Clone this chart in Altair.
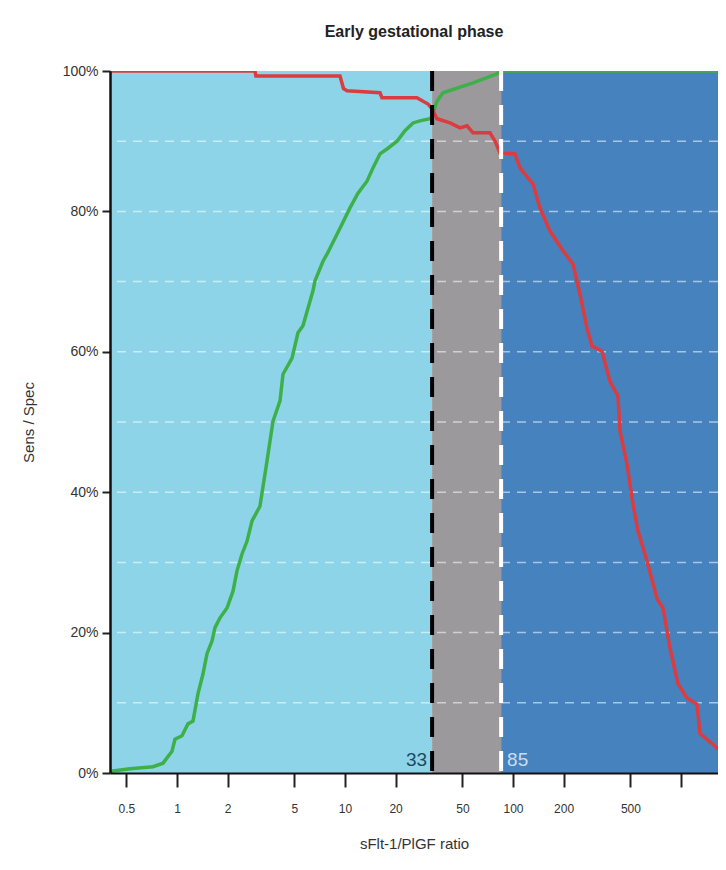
import altair as alt
import pandas as pd

# ---- data ----
green_x = [0.3993, 0.416, 0.525, 0.72, 0.826, 0.934, 0.973, 1.071, 1.162, 1.245, 1.334, 1.428, 1.509,
           1.616, 1.683, 1.803, 1.985, 2.155, 2.276, 2.438, 2.611, 2.796, 3.118, 3.433, 3.727, 4.104,
           4.276, 4.84, 5.25, 5.623, 6.022, 6.449, 6.627, 7.396, 7.816, 9.339, 10.71, 11.95, 13.52,
           14.68, 16.16, 18.03, 20.4, 22.76, 25.41, 27.94, 32.06, 33.0, 35.3, 38.3, 57.8, 80.0, 85.0, 1661]
green_y = [0.0, 0.3, 0.6, 0.9, 1.4, 3.1, 4.8, 5.3, 7.0, 7.4, 11.3, 14.1, 17.0,
           18.8, 20.7, 22.1, 23.5, 25.9, 28.8, 31.2, 33.0, 35.9, 38.0, 44.4, 50.1, 53.0,
           56.8, 59.1, 62.7, 63.7, 66.2, 68.7, 70.1, 72.9, 73.9, 77.6, 80.5, 82.6, 84.3,
           86.2, 88.2, 89.0, 90.0, 91.5, 92.6, 92.9, 93.2, 93.6, 95.7, 96.9, 98.3, 99.6, 100.0, 100.0]

red_x = [0.3993, 2.91, 2.95, 9.34, 9.8, 10.28, 16.16, 16.6, 26.8, 31.2, 33.0, 35.3, 42.2, 48.4, 53.3,
         57.8, 73.0, 78.2, 83.7, 102.8, 110.1, 131.6, 144.8, 166.0, 198.5, 227.6, 250.5, 275.5,
         295.3, 338.6, 377.7, 421.6, 433.5, 477.3, 517.9, 554.6, 627.8, 719.7, 781.5, 860.3,
         960.3, 1086, 1245, 1298, 1549, 1853]
red_y = [100.0, 100.0, 99.3, 99.3, 97.5, 97.2, 96.9, 96.2, 96.2, 95.3, 94.6, 93.2, 92.6, 91.9, 92.2,
         91.2, 91.2, 90.0, 88.3, 88.2, 86.2, 83.9, 80.5, 77.2, 74.4, 72.5, 68.2, 63.4,
         60.8, 60.1, 55.8, 53.7, 48.7, 44.0, 38.3, 34.5, 30.2, 24.9, 23.5, 17.8,
         12.7, 10.7, 9.8, 5.6, 4.1, 2.4]

zone_start = [0.3993, 33, 85]
zone_end = [33, 85, 1661]
zone_name = ["rule-out", "grey zone", "rule-in"]
zone_color = ["#8ED4E8", "#9C999C", "#4682BE"]

grid_y = [10, 20, 30, 40, 50, 60, 70, 80, 90]
cutoff_low = [33]
cutoff_high = [85]
x_ticks = [0.5, 1, 2, 5, 10, 20, 50, 100, 200, 500, 1000]
y_ticks = [0, 20, 40, 60, 80, 100]

X_DOMAIN = [0.3993, 1661]
W, H = 608, 702

x_scale = alt.Scale(type="log", domain=X_DOMAIN, nice=False)
y_scale = alt.Scale(domain=[0, 100], nice=False, zero=False)

x_axis = alt.Axis(title="sFlt-1/PlGF ratio", values=x_ticks,
                  labelExpr="datum.value >= 1000 ? '' : format(datum.value, '~g')",
                  grid=False, tickSize=14, tickWidth=2, tickColor="#222",
                  labelPadding=16, labelFontSize=12, labelColor="#333",
                  labelFont="Liberation Sans", domainColor="#111", domainWidth=2,
                  titleFontSize=15, titleFont="Liberation Sans", titleFontWeight="normal",
                  titleColor="#333", titleY=70, titleBaseline="middle", zindex=1)
y_axis = alt.Axis(title="Sens / Spec", values=y_ticks, labelExpr="datum.value + '%'",
                  grid=False, tickSize=8, tickWidth=2, tickColor="#222",
                  labelPadding=4, labelFontSize=14, labelColor="#333",
                  labelFont="Liberation Sans", domainColor="#111", domainWidth=2.5,
                  titleFontSize=15, titleFont="Liberation Sans", titleFontWeight="normal",
                  titleColor="#333", titleX=-82, titleBaseline="middle", zindex=1)

zones = pd.DataFrame({"start": zone_start, "end": zone_end, "zone": zone_name,
                      "lo": [0] * 3, "hi": [100] * 3})
bg = alt.Chart(zones).mark_rect(clip=True).encode(
    x=alt.X("start:Q", scale=x_scale, axis=x_axis),
    x2="end:Q",
    y=alt.Y("lo:Q", scale=y_scale, axis=y_axis),
    y2="hi:Q",
    fill=alt.Fill("zone:N", scale=alt.Scale(domain=zone_name, range=zone_color), legend=None),
)

grid = alt.Chart(pd.DataFrame({"g": grid_y})).mark_rule(
    stroke="#FFFFFF", strokeWidth=1.5, strokeDash=[9, 7], opacity=0.55
).encode(y=alt.Y("g:Q", scale=y_scale, axis=y_axis))

rows = []
for i, (xv, yv) in enumerate(zip(green_x, green_y)):
    rows.append({"x": xv, "y": yv, "s": "Sens", "i": i})
for i, (xv, yv) in enumerate(zip(red_x, red_y)):
    rows.append({"x": xv, "y": yv, "s": "Spec", "i": i})
curves = pd.DataFrame(rows)

lines = alt.Chart(curves).mark_line(strokeWidth=3.5, clip=True).encode(
    x=alt.X("x:Q", scale=x_scale, axis=x_axis),
    y=alt.Y("y:Q", scale=y_scale, axis=y_axis),
    stroke=alt.Stroke("s:N", scale=alt.Scale(domain=["Sens", "Spec"], range=["#3DB04A", "#DC3B3F"]),
                      legend=None),
    detail="s:N",
    order="i:Q",
)

black_line = alt.Chart(pd.DataFrame({"c": cutoff_low})).mark_rule(
    stroke="#000000", strokeWidth=4, strokeDash=[20, 14]
).encode(x=alt.X("c:Q", scale=x_scale, axis=x_axis))

white_line = alt.Chart(pd.DataFrame({"c": cutoff_high})).mark_rule(
    stroke="#FFFFFF", strokeWidth=4, strokeDash=[20, 14]
).encode(x=alt.X("c:Q", scale=x_scale, axis=x_axis))

lab_low = alt.Chart(pd.DataFrame({"c": cutoff_low, "t": ["33"], "yy": [0]})).mark_text(
    align="right", baseline="bottom", dx=-5, dy=-3, fontSize=19, font="Liberation Sans",
    color="#1C4B5E"
).encode(x=alt.X("c:Q", scale=x_scale, axis=x_axis),
         y=alt.Y("yy:Q", scale=y_scale, axis=y_axis), text="t:N")

lab_high = alt.Chart(pd.DataFrame({"c": cutoff_high, "t": ["85"], "yy": [0]})).mark_text(
    align="left", baseline="bottom", dx=6, dy=-3, fontSize=19, font="Liberation Sans",
    color="#C9DDF0"
).encode(x=alt.X("c:Q", scale=x_scale, axis=x_axis),
         y=alt.Y("yy:Q", scale=y_scale, axis=y_axis), text="t:N")

chart = alt.layer(bg, grid, lines, black_line, white_line, lab_low, lab_high).properties(
    width=W, height=H,
    title=alt.TitleParams("Early gestational phase", fontSize=16, fontWeight="bold",
                          font="Liberation Sans", color="#222", anchor="middle", offset=24),
    autosize=alt.AutoSizeParams(type="none"),
    padding={"left": 102, "top": 63, "right": 0, "bottom": 87},
).configure_view(stroke=None)

chart.save("out.html", embed_options={"renderer": "svg", "actions": False})
